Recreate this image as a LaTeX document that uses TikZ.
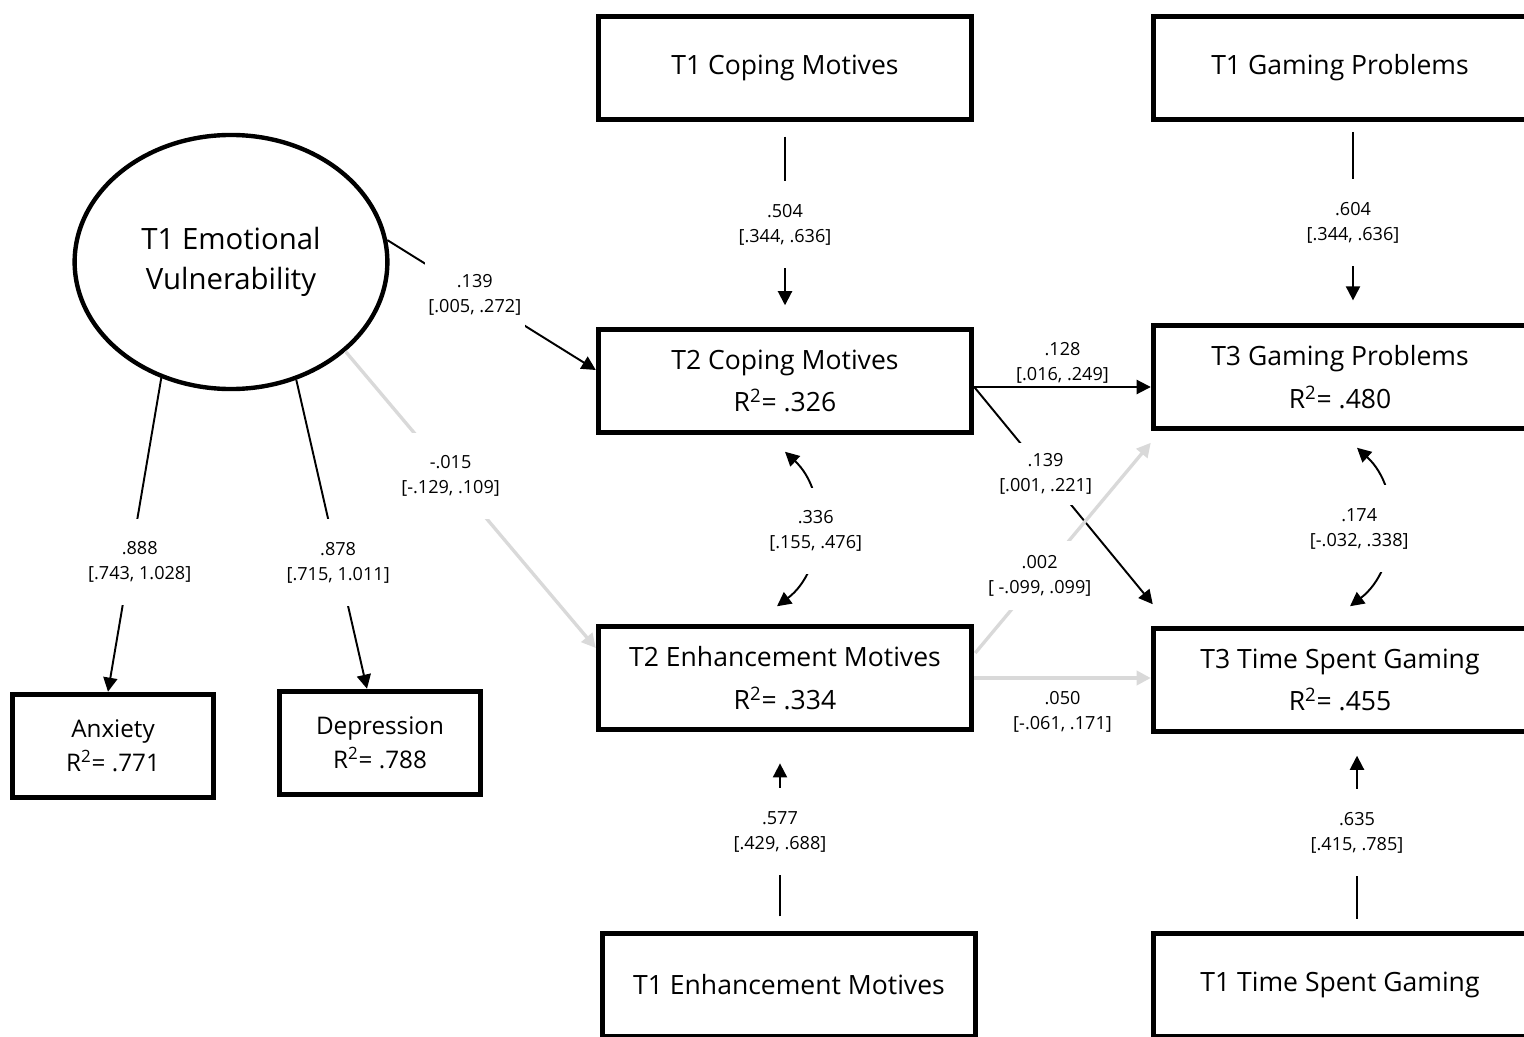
\documentclass[tikz,border=0pt]{standalone}
\usepackage{fontspec}
\setmainfont{Open Sans}
\usepackage{tikz}
\usetikzlibrary{arrows.meta,positioning,calc,shapes.geometric}
\definecolor{faint}{HTML}{D9D9D9}

\begin{document}
\begin{tikzpicture}[x=0.02cm,y=-0.02cm,
  var/.style={draw,line width=2.8pt,minimum width=212.6pt,minimum height=58.4pt,inner sep=0pt,align=center,font=\fontsize{15.1}{24.4}\selectfont},
  ind/.style={var,minimum width=114pt,minimum height=59pt,font=\fontsize{13.8}{19.3}\selectfont},
  lat/.style={ellipse,draw,line width=2.5pt,minimum width=178pt,minimum height=144.6pt,inner sep=0pt,align=center,font=\fontsize{16.7}{22.7}\selectfont},
  est/.style={fill=white,align=center,font=\fontsize{10.3}{14.2}\selectfont,inner xsep=2pt,inner ysep=13pt},
  estb/.style={align=center,font=\fontsize{10.3}{14.2}\selectfont,inner sep=1.5pt},
  reg/.style={line width=1.1pt,-{Triangle[length=8pt,width=8pt]}},
  weak/.style={line width=1.9pt,faint,-{Triangle[length=8pt,width=8pt]}},
  cov/.style={line width=1.1pt,{Triangle[length=8pt,width=8pt]}-{Triangle[length=8pt,width=8pt]}}]
  \useasboundingbox (0,0) rectangle (1524,1037);
  \clip (0,0) rectangle (1524,1037);

  % variables
  \node[lat] (emo) at (231,262) {T1 Emotional\\Vulnerability};
  \node[ind] (anx) at (113,746) {Anxiety\\R\textsuperscript{2}= .771};
  \node[ind] (dep) at (380,743) {Depression\\R\textsuperscript{2}= .788};
  \node[var] (t1cop) at (785,68) {T1 Coping Motives};
  \node[var] (t2cop) at (785,381) {T2 Coping Motives\\R\textsuperscript{2}= .326};
  \node[var] (t2enh) at (785,678) {T2 Enhancement Motives\\R\textsuperscript{2}= .334};
  \node[var] (t1enh) at (789,985) {T1 Enhancement Motives};
  \node[var] (t1gp) at (1340,68) {T1 Gaming Problems};
  \node[var] (t3gp) at (1340,377) {T3 Gaming Problems\\R\textsuperscript{2}= .480};
  \node[var] (t3tsg) at (1340,680) {T3 Time Spent Gaming\\R\textsuperscript{2}= .455};
  \node[var] (t1tsg) at (1340,985) {T1 Time Spent Gaming};

  % loadings
  \draw[reg] (emo.239) -- node[est,pos=0.586,xshift=5.5pt] (l888) {.888\\{[.743, 1.028]}} ($(anx.north)+(-5,0)$);
  \draw[reg] (emo.-61) -- node[est,pos=0.592] (l878) {.878\\{[.715, 1.011]}} ($(dep.north)+(-13,0)$);

  % paths from the latent factor
  \draw[reg] (emo.8) -- node[est,pos=0.42] (l139a) {.139\\{[.005, .272]}} ($(t2cop.west)+(0,-11)$);
  \draw[weak] (emo.-38) -- node[est,pos=0.42,text=black] (l015) {-.015\\{[-.129, .109]}} ($(t2enh.west)+(0,-30)$);

  % stability paths
  \draw[reg,shorten <=8.5pt,shorten >=12.5pt] (t1cop.south) -- node[est] (l504) {.504\\{[.344, .636]}} (t2cop.north);
  \draw[reg,shorten <=5.7pt,shorten >=13pt] ($(t1gp.south)+(13,0)$) -- node[est] (l604) {.604\\{[.344, .636]}} ($(t3gp.north)+(13,0)$);
  \draw[reg,shorten <=8.5pt,shorten >=18pt] ($(t1enh.north)+(-9,0)$) -- node[est] (l577) {.577\\{[.429, .688]}} ($(t2enh.south)+(-5,0)$);
  \draw[reg,shorten <=7pt,shorten >=12.5pt] ($(t1tsg.north)+(17,0)$) -- node[est] (l635) {.635\\{[.415, .785]}} ($(t3tsg.south)+(17,0)$);

  % motives to outcomes
  \coordinate (cop out) at ($(t2cop.east)+(0,6)$);
  \draw[reg] (cop out) -- node[estb,above] (l128) {.128\\{[.016, .249]}} (cop out -| t3gp.west);
  \draw[reg] (cop out) -- node[est,pos=0.4,inner ysep=6pt] (l139b) {.139\\{[.001, .221]}} ($(t3tsg.north west)+(2,-22)$);
  \draw[weak] ($(t2enh.east)+(1,-25)$) -- node[est,pos=0.367,inner ysep=8pt,text=black] (l002) {.002\\{[ -.099, .099]}} ($(t3gp.south west)+(0,12)$);
  \draw[weak] (t2enh.east) -- node[estb,below=5pt,text=black] (l050) {.050\\{[-.061, .171]}} (t2enh.east -| t3tsg.west);

  % residual covariances
  \draw[cov] ($(t2cop.south)+(0,17)$) to[bend left=50] node[est] (l336) {.336\\{[.155, .476]}} ($(t2enh.north)+(-8,-18)$);
  \draw[cov] ($(t3gp.south)+(17,17)$) to[bend left=50] node[est,xshift=-17pt] (l174) {.174\\{[-.032, .338]}} ($(t3tsg.north)+(10,-20)$);
\end{tikzpicture}
\end{document}
